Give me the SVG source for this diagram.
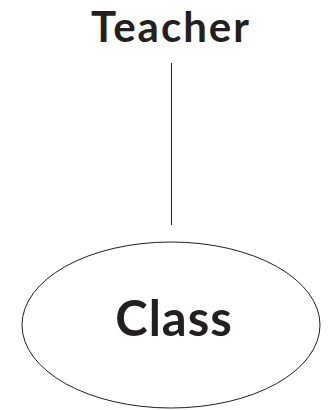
<svg xmlns="http://www.w3.org/2000/svg" width="333" height="410" viewBox="0 0 333 410">
<style>
.lbl{font-family:Lato,"Liberation Sans",sans-serif;font-weight:bold;fill:#231f20;text-anchor:middle}
.shape{fill:#fff;stroke:#231f20;stroke-width:1}
</style>
<rect width="333" height="410" fill="#fff"/>
<g id="connectors">
<line x1="171.5" y1="63" x2="171.5" y2="225" stroke="#231f20" stroke-width="1"/>
</g>
<g id="teacher">
<text class="lbl" x="171" y="42" font-size="42" letter-spacing="2">Teacher</text>
</g>
<g id="class">
<ellipse class="shape" cx="171" cy="325" rx="149" ry="83"/>
<text class="lbl" x="174" y="336" font-size="49" letter-spacing="1">Class</text>
</g>
</svg>
